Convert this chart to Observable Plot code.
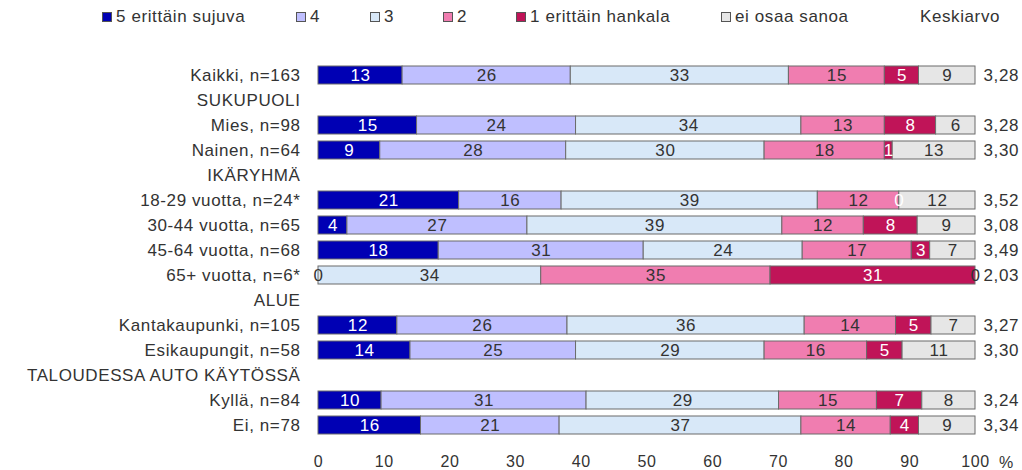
<!DOCTYPE html>
<html><head><meta charset="utf-8">
<script src="https://cdn.jsdelivr.net/npm/d3@7"></script>
<script src="https://cdn.jsdelivr.net/npm/@observablehq/plot@0.6"></script>
<style>
html,body{margin:0;padding:0;background:#fff;}
#wrap{position:relative;width:1022px;height:470px;font-family:"Liberation Sans",Arial,sans-serif;color:#333;}
#legend{position:relative;height:35px;font-size:17px;letter-spacing:0.6px;}
.item{position:absolute;top:7px;display:flex;align-items:center;white-space:nowrap;line-height:20px;}
.sw{width:8px;height:8px;border:1px solid #555;margin-right:4px;}
</style></head><body>
<div id="wrap"><div id="legend"></div><div id="chart"></div></div>
<script>
// ---- data ----
const categories = ["5 erittäin sujuva", "4", "3", "2", "1 erittäin hankala", "ei osaa sanoa"];
const colors = ["#0000b4", "#bfbfff", "#d8e8f8", "#f07db0", "#c01458", "#e6e6e6"];
const rowLabels = ["Kaikki, n=163", "SUKUPUOLI", "Mies, n=98", "Nainen, n=64", "IKÄRYHMÄ",
  "18-29 vuotta, n=24*", "30-44 vuotta, n=65", "45-64 vuotta, n=68", "65+ vuotta, n=6*", "ALUE",
  "Kantakaupunki, n=105", "Esikaupungit, n=58", "TALOUDESSA AUTO KÄYTÖSSÄ", "Kyllä, n=84", "Ei, n=78"];
const barRows = ["Kaikki, n=163", "Mies, n=98", "Nainen, n=64", "18-29 vuotta, n=24*", "30-44 vuotta, n=65",
  "45-64 vuotta, n=68", "65+ vuotta, n=6*", "Kantakaupunki, n=105", "Esikaupungit, n=58", "Kyllä, n=84", "Ei, n=78"];
const v5  = [12.8, 15.0, 9.4, 21.4, 4.4, 18.3, 0, 12.0, 14.0, 9.6, 15.6];
const v4  = [25.6, 24.2, 28.3, 15.6, 27.4, 31.2, 0, 25.9, 25.2, 31.2, 21.1];
const v3  = [33.2, 34.3, 30.2, 39.0, 38.8, 24.2, 33.9, 36.1, 28.7, 29.3, 36.8];
const v2  = [14.6, 12.7, 18.3, 12.4, 12.4, 16.6, 34.9, 13.9, 15.6, 14.9, 13.6];
const v1  = [5.2, 7.8, 1.2, 0, 8.2, 2.8, 31.2, 5.4, 5.4, 6.9, 4.3];
const vEi = [8.6, 6.0, 12.6, 11.6, 8.8, 6.9, 0, 6.7, 11.1, 8.1, 8.6];
const keskiarvo = [3.28, 3.28, 3.30, 3.52, 3.08, 3.49, 2.03, 3.27, 3.30, 3.24, 3.34];
const xTicks = [0, 10, 20, 30, 40, 50, 60, 70, 80, 90, 100];

// ---- build tables ----
const series = [v5, v4, v3, v2, v1, vEi];
const data = [];
barRows.forEach((row, i) => {
  categories.forEach((cat, j) => data.push({row, cat, value: series[j][i]}));
});
const avgData = barRows.map((row, i) => ({row, x: 100, text: d3.format(".2f")(keskiarvo[i]).replace(".", ",")}));
const lightText = new Set([categories[0], categories[4]]);

// ---- legend ----
const legend = document.getElementById("legend");
const legendLeft = [102, 296, 370, 443, 516, 721];
categories.forEach((cat, j) => {
  const it = document.createElement("div");
  it.className = "item";
  it.style.left = legendLeft[j] + "px";
  it.innerHTML = `<span class="sw" style="background:${colors[j]}"></span><span>${cat}</span>`;
  legend.appendChild(it);
});
const kk = document.createElement("div");
kk.className = "item"; kk.style.left = "920px"; kk.textContent = "Keskiarvo";
legend.appendChild(kk);

// ---- chart ----
const chart = Plot.plot({
  width: 1022, height: 435,
  marginLeft: 318, marginRight: 47, marginTop: 22.9, marginBottom: 27.2,
  style: {fontFamily: '"Liberation Sans", Arial, sans-serif', fontSize: "17px", color: "#333", background: "white", letterSpacing: "0.6px", overflow: "visible"},
  x: {domain: [0, 100], label: null},
  y: {domain: rowLabels, paddingInner: 0.27, paddingOuter: 0.135, label: null},
  color: {domain: categories, range: colors},
  marks: [
    Plot.barX(data, Plot.stackX({x: "value", y: "row", fill: "cat", stroke: "#6b6b6b", strokeWidth: 1})),
    Plot.text(data, Plot.stackX({x: "value", y: "row", z: "cat",
      text: d => lightText.has(d.cat) ? String(Math.round(d.value)) : "", fill: "white"})),
    Plot.text(data, Plot.stackX({x: "value", y: "row", z: "cat",
      text: d => lightText.has(d.cat) ? "" : String(Math.round(d.value)), fill: "#333"})),
    Plot.text(avgData, {x: "x", y: "row", text: "text", dx: 8, textAnchor: "start", fill: "#333"}),
    Plot.text([{x: 100, t: "%"}], {x: "x", text: "t", frameAnchor: "bottom", lineAnchor: "middle", dx: 31, dy: 20, fontSize: 16, fill: "#333"}),
    Plot.axisY({tickSize: 0, tickPadding: 18, fontSize: 17, label: null}),
    Plot.axisX({ticks: xTicks, tickSize: 0, tickPadding: 12, fontSize: 16, label: null})
  ]
});
document.getElementById("chart").appendChild(chart);
</script>
</body></html>
